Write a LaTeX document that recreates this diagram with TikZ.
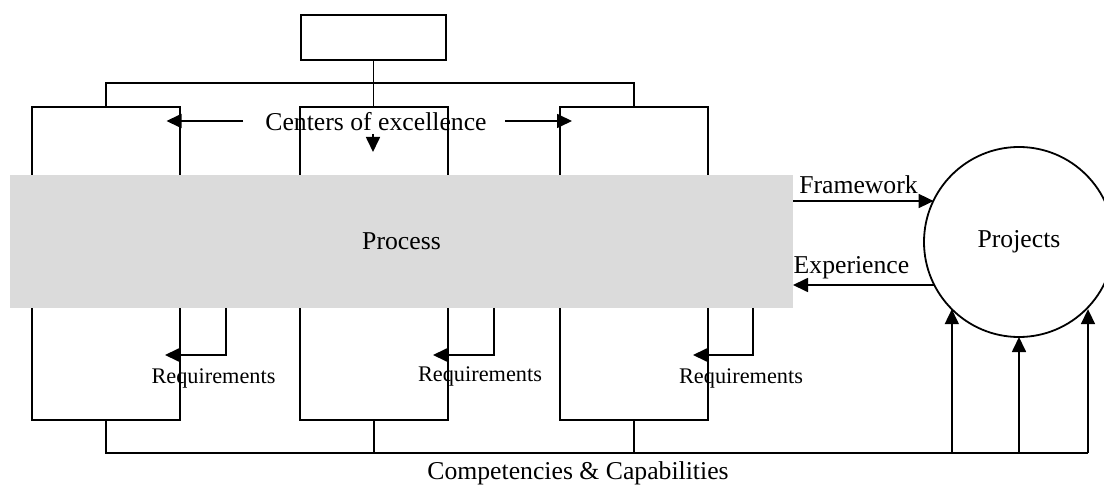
\documentclass[tikz,border=0pt]{standalone}
\usepackage{fontspec}
\setmainfont{Liberation Serif}
\usetikzlibrary{arrows.meta}
\definecolor{procgrey}{RGB}{219,219,219}
\begin{document}
\begin{tikzpicture}[x=1pt,y=-1pt,
  box/.style={draw, line width=1.8pt, inner sep=0pt, outer sep=0pt, fill=white},
  ln/.style={line width=1.7pt},
  arr/.style={line width=1.7pt, -{Triangle[width=14pt,length=15pt]}},
  lbl/.style={inner sep=0pt, font=\fontsize{25.7}{30}\selectfont},
  req/.style={inner sep=0pt, font=\fontsize{22.3}{26}\selectfont}]
\useasboundingbox (0,0) rectangle (1104,489);
% boxes
\node[box, minimum width=145pt, minimum height=45pt] (top) at (373.5,37.5) {};
\node[box, minimum width=148pt, minimum height=313pt] (bL) at (106,263.5) {};
\node[box, minimum width=148pt, minimum height=313pt] (bM) at (374,263.5) {};
\node[box, minimum width=148pt, minimum height=313pt] (bR) at (634,263.5) {};
% top connectors
\coordinate (hy) at (0,83);
\draw[ln] (top.south) -- (top.south |- bM.north);
\draw[ln] (bL.north) |- (hy -| bR.north) -- (bR.north);
% process band
\node[fill=procgrey, minimum width=783pt, minimum height=133pt, inner sep=0pt, outer sep=0pt, lbl] (proc) at (401.5,241.5) {Process};
% projects
\node[circle, draw, line width=1.8pt, minimum size=190pt, inner sep=0pt, outer sep=0pt, lbl] (proj) at (1019,242) {Projects};
% centers of excellence
\node[lbl] (coe) at (376,122) {Centers of excellence};
\coordinate (cl0) at (243,121);
\coordinate (cl1) at (166.5,121);
\coordinate (cr0) at (505,121);
\coordinate (cr1) at (572,121);
\coordinate (cd0) at (373,134);
\coordinate (cd1) at (373,152);
\draw[arr] (cl0) -- (cl1);
\draw[arr] (cr0) -- (cr1);
\draw[arr] (cd0) -- (cd1);
% requirements loops
\coordinate (rL) at (226,355);
\coordinate (rM) at (494,355);
\coordinate (rR) at (753,355);
\draw[arr] (proc.south -| rL) |- ([xshift=-15pt]bL.east |- rL);
\draw[arr] (proc.south -| rM) |- ([xshift=-15pt]bM.east |- rM);
\draw[arr] (proc.south -| rR) |- ([xshift=-15pt]bR.east |- rR);
\node[req] (rqL) at (213.5,378) {Requirements};
\node[req] (rqM) at (480,376) {Requirements};
\node[req] (rqR) at (741,378) {Requirements};
% framework / experience
\coordinate (fy) at (0,201);
\coordinate (ey) at (0,285);
\draw[arr] (proc.east |- fy) -- (fy -| proj.154);
\draw[arr] (ey -| proj.206) -- (proc.east |- ey);
\node[lbl] (fw) at (858.5,185) {Framework};
\node[lbl] (ex) at (851.5,268) {Experience};
% competencies bus
\coordinate (bend) at (1088,453);
\draw[ln] (bL.south) |- (bend);
\draw[ln] (bM.south) -- (bM.south |- bend);
\draw[ln] (bR.south) -- (bR.south |- bend);
\draw[arr] (proj.-135 |- bend) -- (proj.-135);
\draw[arr] (proj.south |- bend) -- (proj.south);
\draw[arr] (bend) -- (bend |- proj.-45);
\node[lbl] (cc) at (578,473) {Competencies \& Capabilities};
\end{tikzpicture}
\end{document}
